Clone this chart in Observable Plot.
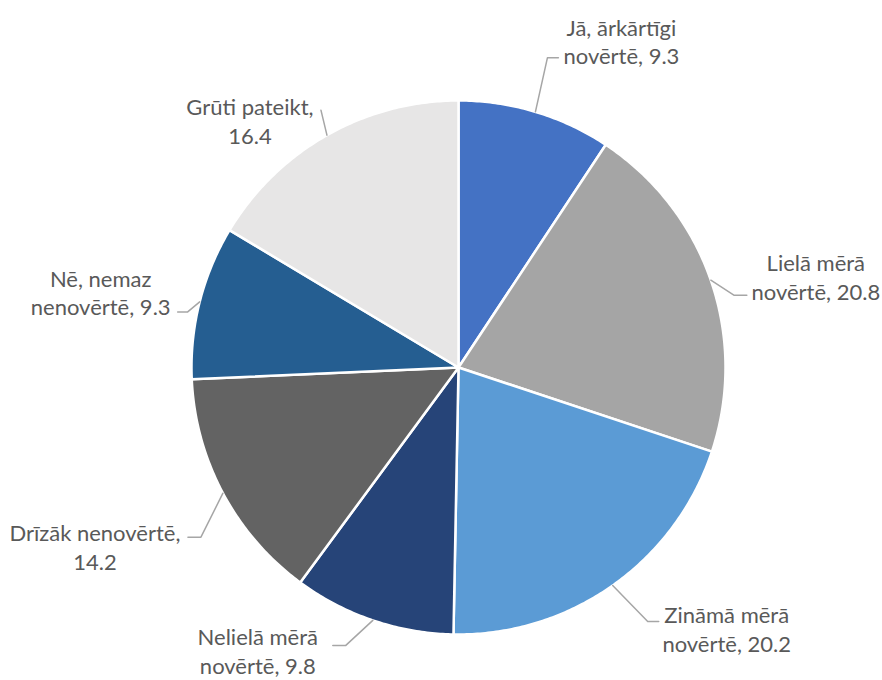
<!DOCTYPE html>
<html>
<head>
<meta charset="utf-8">
<script src="https://cdn.jsdelivr.net/npm/d3@7"></script>
<script src="https://cdn.jsdelivr.net/npm/@observablehq/plot@0.6"></script>
<style>
  html, body { margin: 0; padding: 0; background: #ffffff; }
  #chart { width: 882px; height: 680px; }
</style>
</head>
<body>
<div id="chart"></div>
<script>
// ---- data ----
const categories = [
  "Jā, ārkārtīgi novērtē",
  "Lielā mērā novērtē",
  "Zināmā mērā novērtē",
  "Nelielā mērā novērtē",
  "Drīzāk nenovērtē",
  "Nē, nemaz nenovērtē",
  "Grūti pateikt"
];
const values = [9.3, 20.8, 20.2, 9.8, 14.2, 9.3, 16.4];
const labelLines = [
  ["Jā, ārkārtīgi", "novērtē, 9.3"],
  ["Lielā mērā", "novērtē, 20.8"],
  ["Zināmā mērā", "novērtē, 20.2"],
  ["Nelielā mērā", "novērtē, 9.8"],
  ["Drīzāk nenovērtē,", "14.2"],
  ["Nē, nemaz", "nenovērtē, 9.3"],
  ["Grūti pateikt,", "16.4"]
];
const colors = ["#4472C4", "#A5A5A5", "#5B9BD5", "#264478", "#636363", "#255E91", "#E7E6E6"];

// ---- layout (pixels) ----
const W = 882, H = 680, CX = 458, CY = 367, R = 267;
// per label: elbow offset from slice edge point, horizontal tail length, text offset from edge point
const labelLayout = [
  {elbow: [12, -54], tail: 11,  text: [86, -71]},
  {elbow: [23, 15],  tail: 13,  text: [105, -4]},
  {elbow: [35, 36],  tail: 11,  text: [114, 43]},
  {elbow: [-27, 25], tail: -13, text: [-115, 30]},
  {elbow: [-22, 44], tail: -13, text: [-128, 53]},
  {elbow: [-12, 10], tail: -10, text: [-99, -10]},
  {elbow: [-6, -25], tail: 0,   text: [-77, -15]}
];

const total = d3.sum(values);
const toRad = v => (v / total) * 2 * Math.PI;

// slices as polygons in unit coordinates (y up, angle clockwise from top)
const slicePts = [];
const leaderPts = [];
const labels = [];
let acc = 0;
values.forEach((v, i) => {
  const a0 = toRad(acc), a1 = toRad(acc + v);
  acc += v;
  const name = categories[i];
  slicePts.push({name, x: 0, y: 0});
  const n = Math.max(8, Math.ceil((a1 - a0) / 0.01));
  for (let k = 0; k <= n; k++) {
    const a = a0 + (a1 - a0) * k / n;
    slicePts.push({name, x: Math.sin(a), y: Math.cos(a)});
  }
  slicePts.push({name, x: 0, y: 0});

  const am = (a0 + a1) / 2;
  const ex = Math.sin(am), ey = Math.cos(am);
  const L = labelLayout[i];
  const bx = ex + L.elbow[0] / R, by = ey - L.elbow[1] / R;
  leaderPts.push({name, x: ex, y: ey});
  leaderPts.push({name, x: bx, y: by});
  if (L.tail !== 0) leaderPts.push({name, x: bx + L.tail / R, y: by});
  labels.push({name, text: labelLines[i].join("\n"), x: ex + L.text[0] / R, y: ey - L.text[1] / R});
});

const chart = Plot.plot({
  width: W,
  height: H,
  margin: 0,
  x: {domain: [-CX / R, (W - CX) / R], axis: null},
  y: {domain: [-(H - CY) / R, CY / R], axis: null},
  color: {domain: categories, range: colors},
  style: {background: "#ffffff"},
  marks: [
    Plot.line(slicePts, {x: "x", y: "y", z: "name", fill: "name", stroke: "#ffffff", strokeWidth: 2.5, strokeLinejoin: "round", curve: "linear"}),
    Plot.line(leaderPts, {x: "x", y: "y", z: "name", stroke: "#A6A6A6", strokeWidth: 1.5, curve: "linear"}),
    Plot.text(labels, {x: "x", y: "y", text: "text", fill: "#595959", fontSize: 22, lineHeight: 1.295, textAnchor: "middle", lineAnchor: "middle", fontFamily: "Lato"})
  ]
});
document.getElementById("chart").appendChild(chart);
</script>
</body>
</html>
